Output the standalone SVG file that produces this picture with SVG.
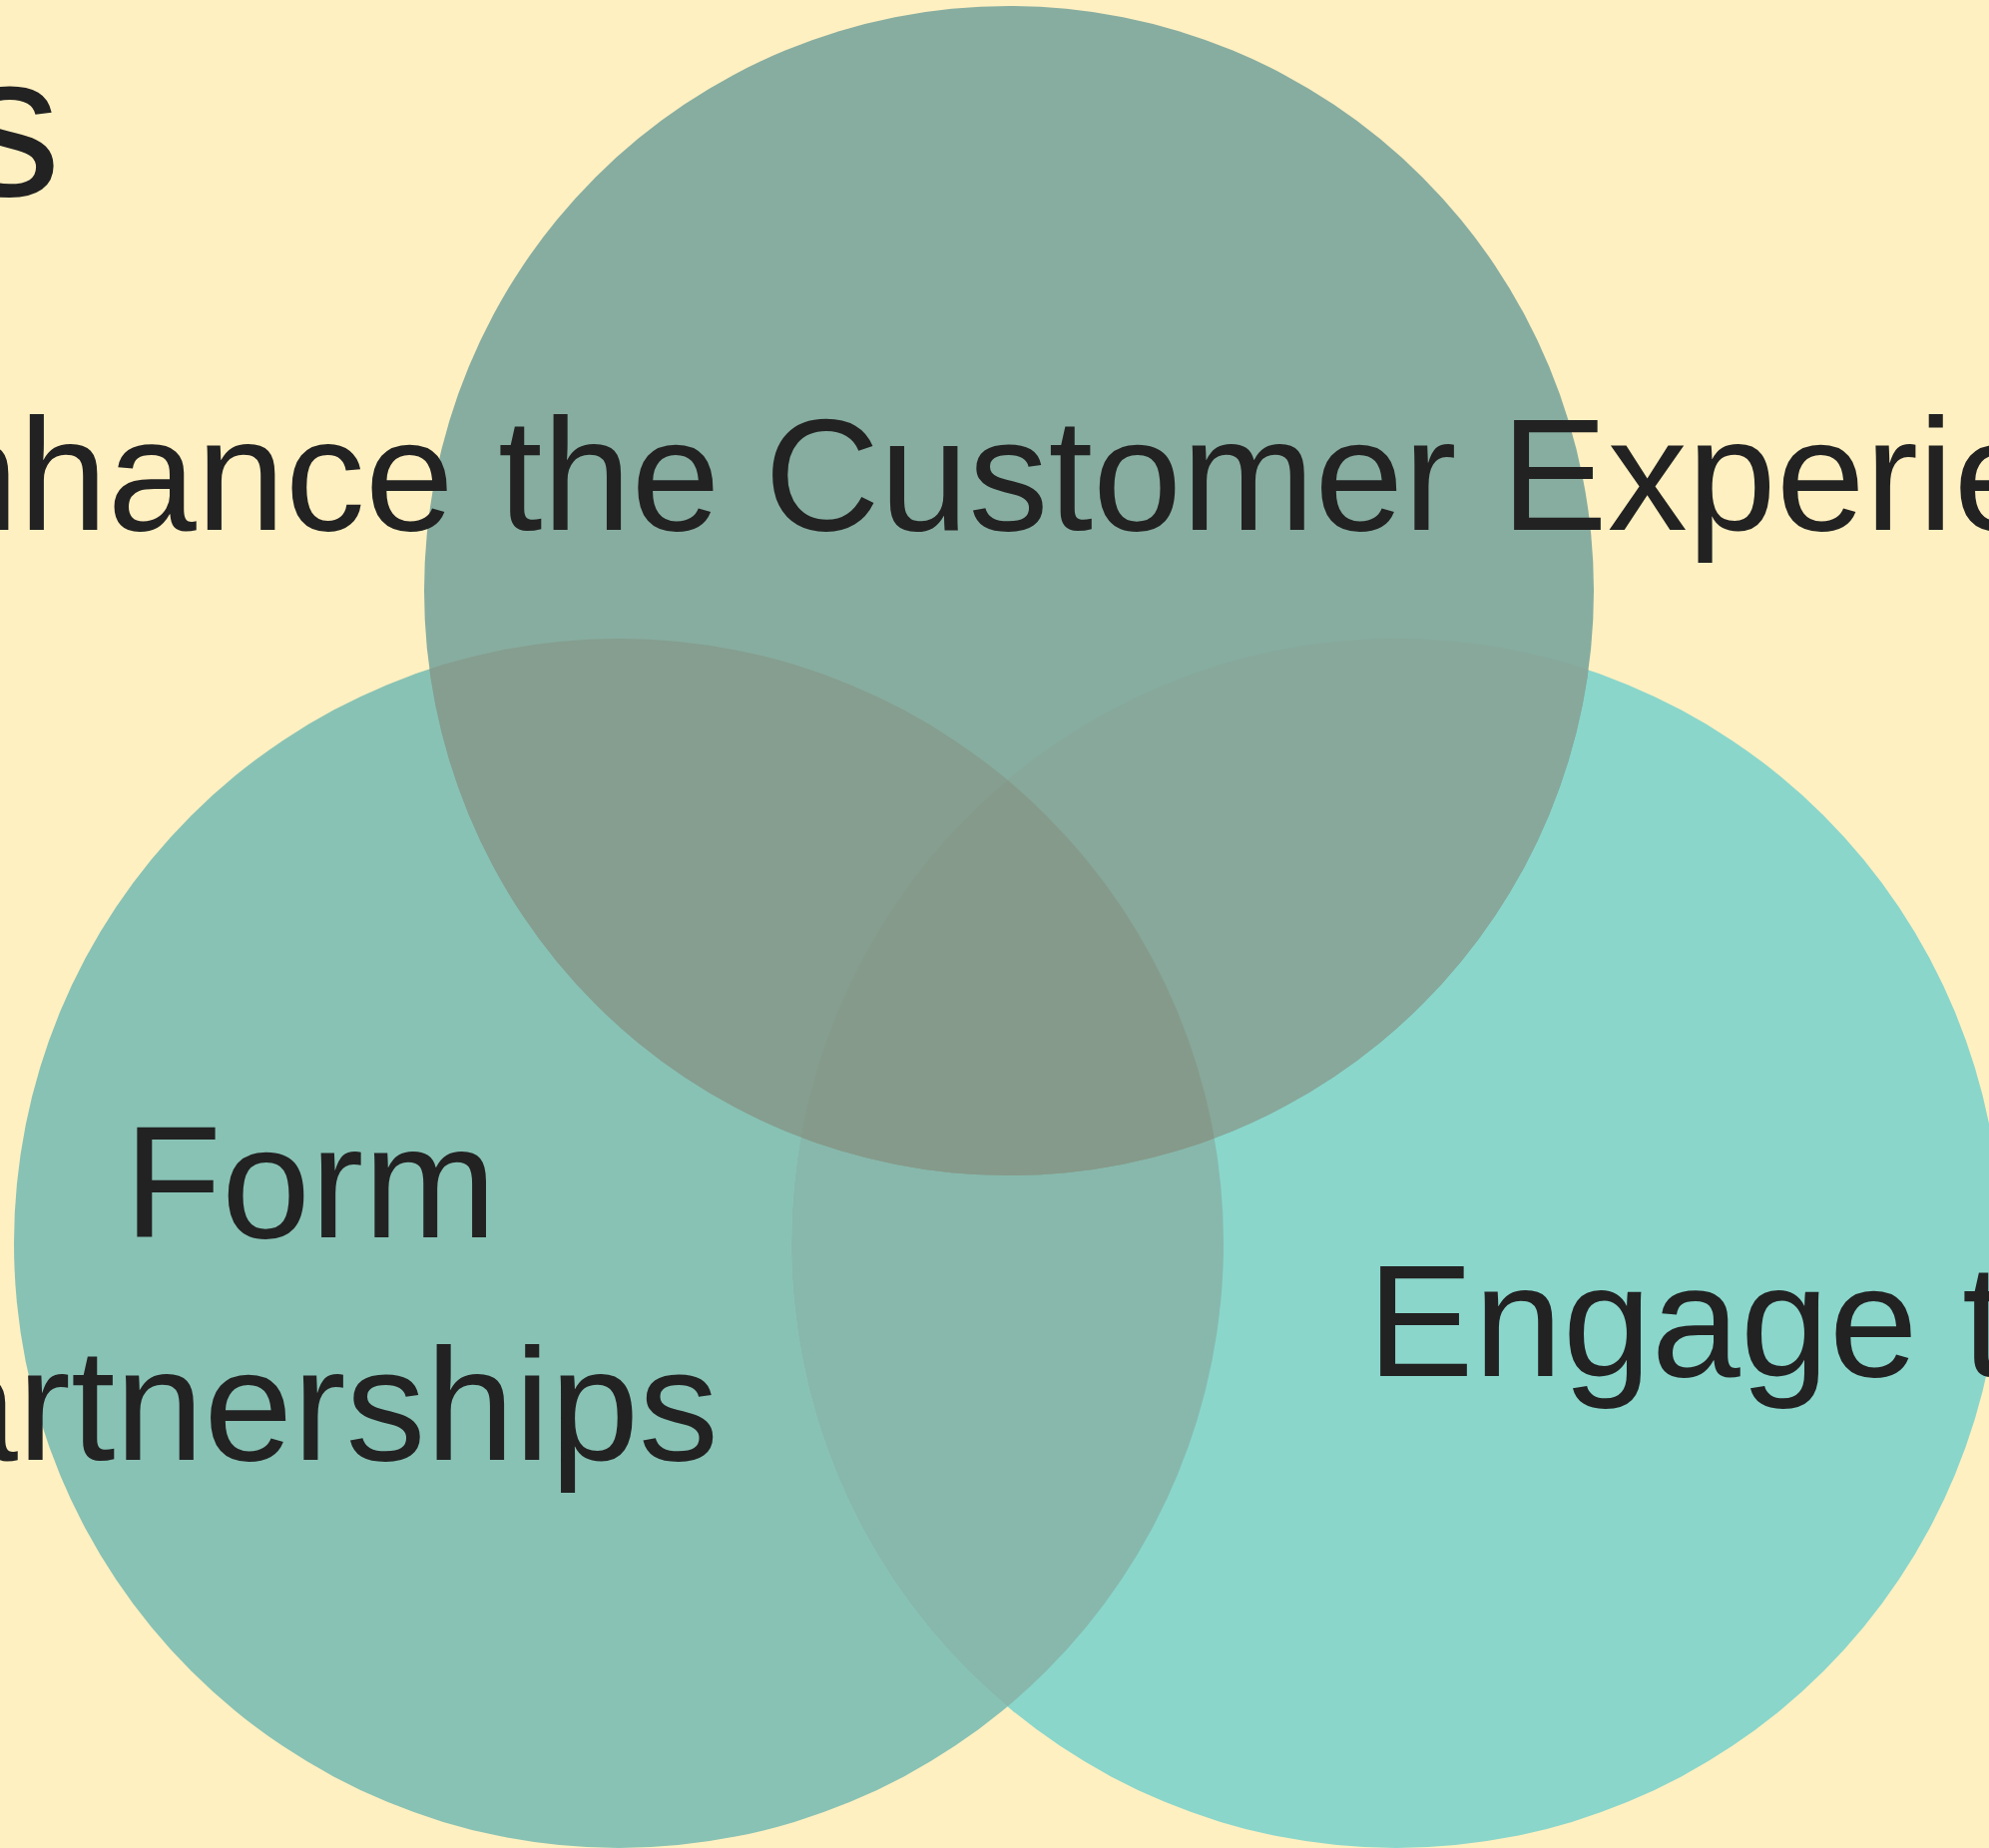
<svg xmlns="http://www.w3.org/2000/svg" width="1993" height="1852" viewBox="0 0 1993 1852">
  <style>
    .lbl { font-family: "Liberation Sans", Arial, sans-serif; font-size: 160px; fill: #222222; }
    .title { font-family: "Liberation Sans", Arial, sans-serif; font-size: 205px; fill: #222222; }
  </style>
  <defs>
    <clipPath id="clipTop"><circle cx="1011" cy="592" r="586"/></clipPath>
    <clipPath id="clipLeft"><circle cx="620" cy="1246" r="606"/></clipPath>
    <clipPath id="clipRight"><circle cx="1399" cy="1246" r="606"/></clipPath>
  </defs>
  <rect x="0" y="0" width="1993" height="1852" fill="#FFF0C1"/>

  <g id="title">
    <text class="title" x="61" y="196" text-anchor="end">s</text>
  </g>

  <g id="node-partnerships">
    <circle cx="620" cy="1246" r="606" fill="#88C2B4"/>
    <text class="lbl" x="311" y="1240" text-anchor="middle">Form</text>
    <text class="lbl" x="271" y="1463" text-anchor="middle">Partnerships</text>
  </g>

  <g id="node-engage">
    <circle cx="1399" cy="1246" r="606" fill="#8AD6CB"/>
    <text class="lbl" x="1370" y="1379">Engage t</text>
  </g>

  <g id="node-customer">
    <circle cx="1011" cy="592" r="586" fill="#87ADA0"/>
    <text class="lbl" x="-177" y="531">Enhance the Customer Experience</text>
  </g>

  <g id="overlaps">
    <circle cx="620" cy="1246" r="606" fill="#88B8AC" clip-path="url(#clipRight)"/>
    <circle cx="1011" cy="592" r="586" fill="#859E8F" clip-path="url(#clipLeft)"/>
    <circle cx="1011" cy="592" r="586" fill="#87A89B" clip-path="url(#clipRight)"/>
    <g clip-path="url(#clipLeft)">
      <circle cx="1011" cy="592" r="586" fill="#859A8A" clip-path="url(#clipRight)"/>
    </g>
  </g>

  <g id="connectors"></g>
</svg>
